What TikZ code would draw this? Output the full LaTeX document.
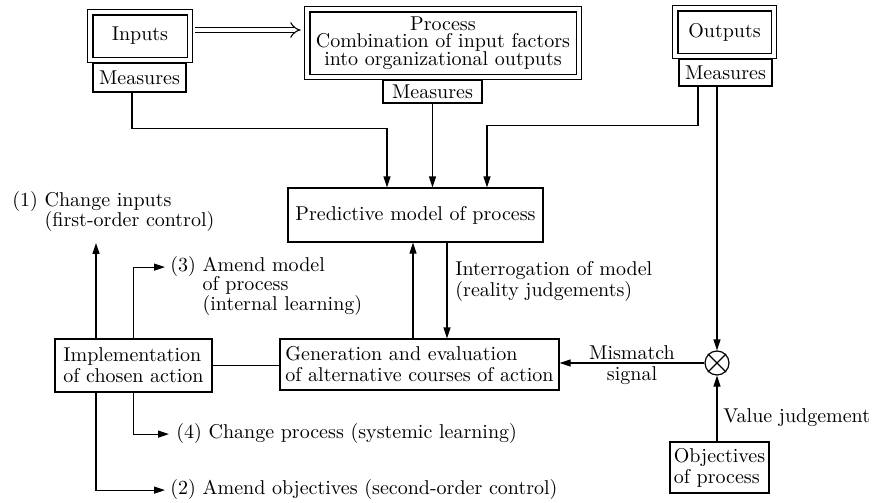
\documentclass[tikz,border=0pt]{standalone}
\usepackage{amsmath}
\usepackage{xcolor}
\usetikzlibrary{arrows.meta,positioning}
\renewcommand{\arraystretch}{0.8}
\newcommand{\tightfont}{\fontsize{10}{8.8}\selectfont\lineskiplimit=-5pt\relax}
\tikzset{
  box/.style={draw, line width=0.6pt, inner sep=1pt, font=\fontsize{10}{10.5}\selectfont},
  dbox/.style={draw, line width=0.55pt, double, double distance=2.2pt, inner sep=1pt},
  lbl/.style={inner sep=0pt, font=\fontsize{10}{10.5}\selectfont},
  arr/.style={line width=0.6pt, -{Triangle[length=5.5pt,width=3.5pt]}},
  dblarr/.style={line width=0.55pt, double, double distance=2.2pt, -{Implies[length=3pt]}}
}

\begin{document}
\begin{tikzpicture}[x=0.5pt, y=-0.5pt]
\useasboundingbox (0,0) rectangle (873,503);
% top row
\node[dbox, minimum width=49.8pt, minimum height=23.8pt] (inp) at (140,36) {Inputs};
\node[box, minimum width=46.5pt, minimum height=14.5pt] (inmeas) at (139.5,77.5) {Measures};
\node[dbox, minimum width=135.8pt, minimum height=33.8pt, align=center, font=\tightfont] (proc) at (443,43)
  {Process\\Combination of input factors\\into organizational outputs};
\node[box, inner sep=0pt, minimum width=49.5pt, minimum height=11.5pt] (prmeas) at (432.5,91.5) {Measures};
\node[dbox, minimum width=49.3pt, minimum height=23.8pt] (outp) at (724.5,32) {Outputs};
\node[box, minimum width=46.5pt, minimum height=13.5pt] (outmeas) at (725.5,72.5) {Measures};
\draw[dblarr, shorten <=2.5pt, shorten >=3pt] ([yshift=3pt]inp.east) -- ([yshift=3pt]inp.east -| proc.west);

% middle
\node[box, minimum width=127.5pt, minimum height=27pt] (pred) at (415.5,215) {Predictive model of process};
\node[box, minimum width=78.5pt, minimum height=26.5pt, align=left] (impl) at (133.5,365.5)
  {Implementation\\of chosen action};
\node[box, minimum width=139.5pt, minimum height=25.5pt, align=left] (gen) at (419.5,364.5)
  {Generation and evaluation\\of alternative courses of action};
\node[draw, line width=0.6pt, circle, inner sep=0pt, minimum size=12pt] (mix) at (717,363) {};
\draw[line width=0.6pt] (mix.45) -- (mix.225) (mix.135) -- (mix.315);
\node[box, minimum width=49.5pt, minimum height=25.5pt, align=left] (obj) at (719.5,467.5)
  {Objectives\\of process};

% labels
\node[lbl, anchor=base west] (chin) at (12,206.5)
  {(1) \begin{tabular}[t]{@{}l@{}}Change inputs\\(first-order control)\end{tabular}};
\node[lbl, anchor=base west] (amm) at (170,271.5)
  {(3) \begin{tabular}[t]{@{}l@{}}Amend model\\of process\\(internal learning)\end{tabular}};
\node[lbl, anchor=base west] (chp) at (176,438.5) {(4) Change process (systemic learning)};
\node[lbl, anchor=base west] (amo) at (170,494.5) {(2) Amend objectives (second-order control)};
\node[lbl, anchor=west, align=left] (irog) at (455,281) {Interrogation of model\\(reality judgements)};
\node[lbl, anchor=west] (valj) at (723,418) {Value judgement};

% connectors
\draw[arr] ([xshift=-3.75pt]inmeas.south) -- ++(0,36) -| ([xshift=-14.25pt]pred.north);
\draw[arr] (prmeas.south) -- (prmeas.south |- pred.north);
\draw[arr] ([xshift=-13.75pt]outmeas.south) -- ++(0,39) -| ([xshift=35.75pt]pred.north);
\draw[arr] (mix |- outmeas.south) -- (mix.north);
\draw[arr] (obj.north -| mix) -- (mix.south);
\draw[arr] (mix.west) -- node[above, inner sep=1.5pt]{Mismatch} node[below, inner sep=1.5pt]{signal} (mix.west -| gen.east);
\draw[arr] ([xshift=15.75pt]pred.south) -- ([xshift=15.75pt]pred.south |- gen.north);
\draw[arr] ([xshift=-3.25pt]gen.north) -- ([xshift=-3.25pt]gen.north |- pred.south);
\draw[line width=0.6pt] (impl.east) -- (impl.east -| gen.west);
\draw[arr, shorten >=5.5pt] ([xshift=-18.75pt]impl.north) -- ([xshift=-18.75pt]impl.north |- chin.south);
\draw[arr, shorten >=2.5pt] (impl.north) |- ([yshift=2.2pt]amm.base west);
\draw[arr, shorten >=3.5pt] (impl.south) |- ([yshift=2.2pt]chp.base west);
\draw[arr, shorten >=2.5pt] ([xshift=-18.75pt]impl.south) |- ([yshift=2.2pt]amo.base west);
\end{tikzpicture}
\end{document}
